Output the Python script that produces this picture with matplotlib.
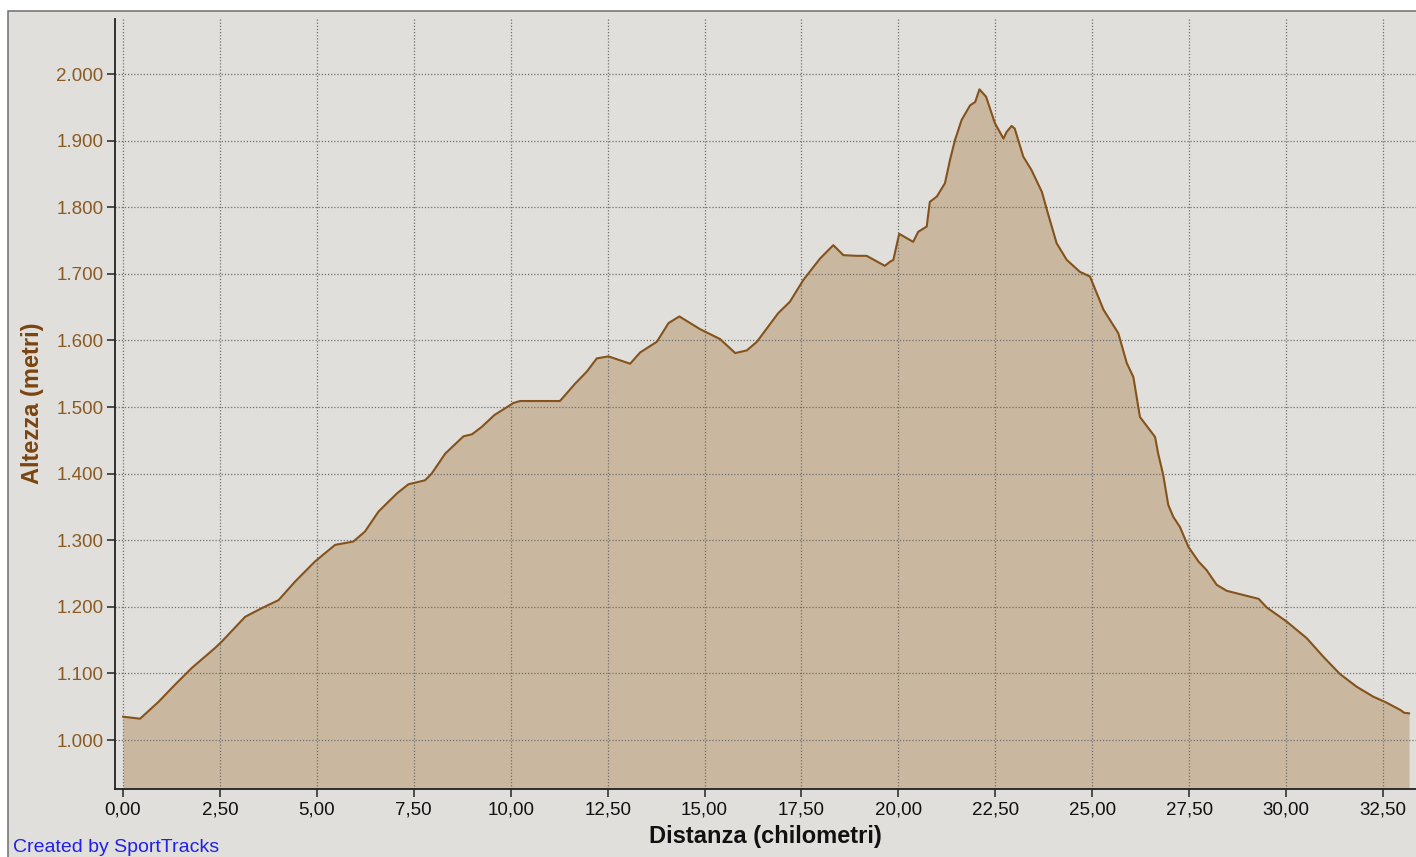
"""
Elevation profile (SportTracks style) redrawn with matplotlib.
"""

import matplotlib

matplotlib.use("Agg")

import matplotlib.pyplot as plt
from matplotlib.patches import Rectangle
from matplotlib.ticker import FixedLocator, FixedFormatter


# distance along the track (km) and altitude (m)
distance_km = [
    0.00, 0.44, 0.91, 1.34, 1.77, 2.37, 2.55, 3.15, 3.58, 4.01,
    4.44, 4.95, 5.47, 5.94, 6.24, 6.59, 7.06, 7.36, 7.79, 7.96,
    8.31, 8.78, 9.00, 9.25, 9.58, 10.07, 10.24, 11.27, 11.66, 11.96,
    12.22, 12.52, 13.08, 13.34, 13.77, 14.07, 14.35, 14.88, 15.40, 15.79,
    16.09, 16.35, 16.90, 17.20, 17.55, 17.98, 18.32, 18.58, 18.92, 19.18,
    19.65, 19.78, 19.87, 20.02, 20.38, 20.51, 20.73, 20.81, 20.99, 21.20,
    21.33, 21.46, 21.63, 21.85, 21.98, 22.09, 22.26, 22.49, 22.71, 22.79,
    22.92, 23.00, 23.22, 23.43, 23.70, 23.83, 24.08, 24.34, 24.68, 24.94,
    25.29, 25.67, 25.89, 26.06, 26.23, 26.62, 26.70, 26.83, 26.96, 27.09,
    27.26, 27.48, 27.74, 27.95, 28.21, 28.47, 28.81, 29.29, 29.50, 30.01,
    30.53, 30.96, 31.39, 31.82, 32.25, 32.56, 32.95, 33.04, 33.17,
]

altitude_m = [
    1035, 1032, 1057, 1083, 1108, 1138, 1148, 1185, 1198, 1210,
    1238, 1268, 1293, 1298, 1313, 1343, 1370, 1384, 1390, 1400,
    1430, 1456, 1459, 1470, 1488, 1506, 1509, 1509, 1535, 1553,
    1573, 1576, 1565, 1582, 1598, 1626, 1636, 1617, 1602, 1581,
    1585, 1598, 1641, 1658, 1691, 1723, 1743, 1728, 1727, 1727,
    1712, 1718, 1721, 1760, 1748, 1763, 1771, 1808, 1816, 1836,
    1871, 1901, 1931, 1953, 1958, 1977, 1966, 1926, 1903, 1913,
    1922, 1918, 1876, 1856, 1823, 1796, 1746, 1721, 1703, 1696,
    1646, 1611, 1566, 1545, 1485, 1455, 1430, 1398, 1353, 1335,
    1320, 1290, 1268, 1255, 1233, 1224, 1219, 1212, 1199, 1178,
    1153, 1125, 1099, 1080, 1065, 1057, 1045, 1041, 1040,
]

x_ticks = [0.0, 2.5, 5.0, 7.5, 10.0, 12.5, 15.0, 17.5, 20.0, 22.5, 25.0, 27.5, 30.0, 32.5]
x_tick_labels = [
    "0,00", "2,50", "5,00", "7,50", "10,00", "12,50", "15,00",
    "17,50", "20,00", "22,50", "25,00", "27,50", "30,00", "32,50",
]
y_ticks = [1000, 1100, 1200, 1300, 1400, 1500, 1600, 1700, 1800, 1900, 2000]
y_tick_labels = [
    "1.000", "1.100", "1.200", "1.300", "1.400", "1.500",
    "1.600", "1.700", "1.800", "1.900", "2.000",
]

x_label = "Distanza (chilometri)"
y_label = "Altezza (metri)"
credit = "Created by SportTracks"

BG = "#E0DFDB"
FILL = "#C9B89F"
LINE = "#84521A"
TICK_BROWN = "#8A5A22"
LABEL_BROWN = "#7A4510"

W, H = 1416, 857


def main():
    plt.rcParams["font.family"] = ["Liberation Sans", "DejaVu Sans"]

    fig = plt.figure(figsize=(W / 100, H / 100), dpi=100, facecolor="white")

    # grey panel with a thin border, open to the right and bottom
    panel = Rectangle(
        (8 / W, -0.02), 1.05, 1 - 11 / H + 0.02,
        transform=fig.transFigure, facecolor=BG, edgecolor="#6E6E6E",
        linewidth=1.1, zorder=-10,
    )
    fig.patches.append(panel)

    ax = fig.add_axes([114.5 / W, 1 - 789.3 / H, 1 - 114.5 / W, (789.3 - 19) / H])
    ax.patch.set_visible(False)

    ax.fill_between(distance_km, altitude_m, 900, color=FILL, linewidth=0, zorder=1)
    ax.plot(distance_km, altitude_m, color=LINE, linewidth=1.5, zorder=3)

    ax.set_xlim(-0.22, 33.35)
    ax.set_ylim(926, 2082.6)

    ax.xaxis.set_major_locator(FixedLocator(x_ticks))
    ax.xaxis.set_major_formatter(FixedFormatter(x_tick_labels))
    ax.yaxis.set_major_locator(FixedLocator(y_ticks))
    ax.yaxis.set_major_formatter(FixedFormatter(y_tick_labels))

    ax.set_axisbelow(False)
    ax.grid(True, color="#707070", linewidth=0.9, linestyle=(0, (1, 1.5)), zorder=2)

    for side in ("top", "right"):
        ax.spines[side].set_visible(False)
    for side in ("left", "bottom"):
        ax.spines[side].set_color("#222222")
        ax.spines[side].set_linewidth(1.3)
        ax.spines[side].set_zorder(4)

    ax.tick_params(axis="y", length=6, width=1.2, color="#333333",
                   labelsize=13.5, labelcolor=TICK_BROWN, pad=2)
    ax.tick_params(axis="x", length=5.5, width=1.2, color="#333333",
                   labelsize=13.5, labelcolor="#111111", pad=3)

    fig.text(765 / W, 1 - 837 / H, x_label, fontsize=17, fontweight="bold",
             color="#111111", ha="center", va="center")
    fig.text(33 / W, 1 - 403 / H, y_label, fontsize=17, fontweight="bold",
             color=LABEL_BROWN, ha="center", va="center", rotation=90)
    fig.text(13 / W, 1 - 847 / H, credit, color="#2020E8", fontsize=14,
             ha="left", va="center")

    fig.savefig("out.png", dpi=100, facecolor=fig.get_facecolor())
    plt.close(fig)


if __name__ == "__main__":
    main()
